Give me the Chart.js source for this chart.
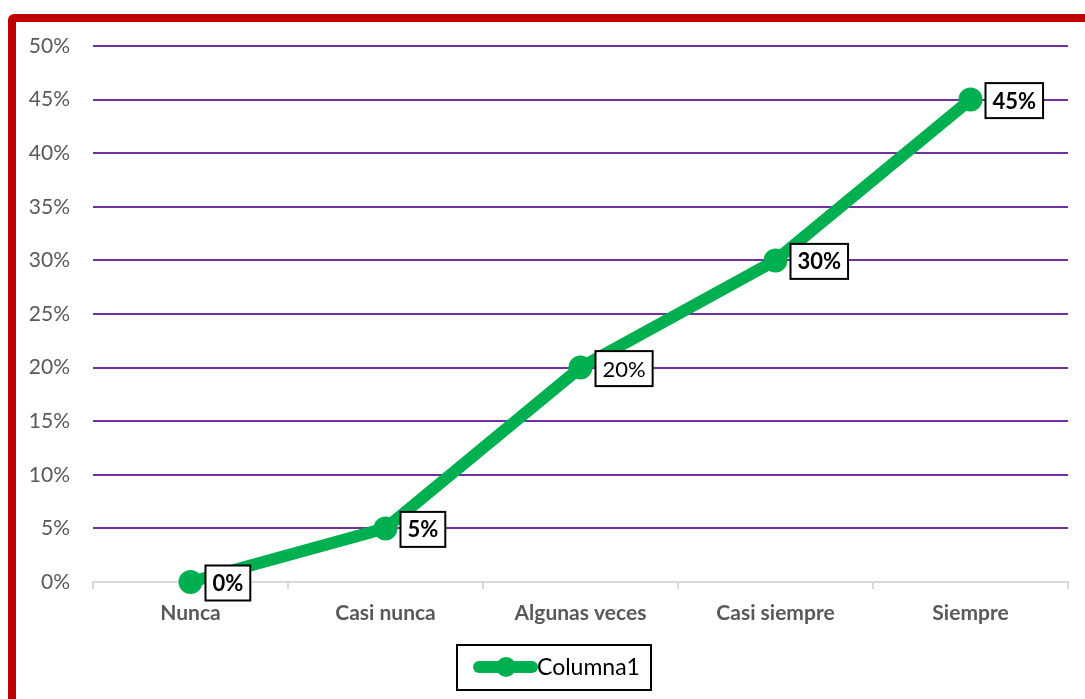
<!DOCTYPE html>
<html>
<head>
<meta charset="utf-8">
<script src="https://cdn.jsdelivr.net/npm/chart.js@4/dist/chart.umd.min.js"></script>
<style>
  html, body { margin: 0; padding: 0; background: #fff; overflow: hidden; }
  #marco {
    position: absolute; left: 8px; top: 14px; width: 1200px; height: 800px;
    border: 8px solid #C00000; border-radius: 6px; box-sizing: border-box;
  }
  #grafico { position: absolute; left: 0; top: 0; }
</style>
</head>
<body>
<div id="marco"></div>
<canvas id="grafico" width="1085" height="699"></canvas>
<script>
const categorias = ["Nunca", "Casi nunca", "Algunas veces", "Casi siempre", "Siempre"];
const valores = [0, 0.05, 0.20, 0.30, 0.45];
const etiquetas = ["0%", "5%", "20%", "30%", "45%"];
const nombreSerie = "Columna1";

const verde = "#00B050";
const fuente = "Lato, 'Open Sans', sans-serif";

// etiquetas con recuadro a la derecha de cada punto
const pluginEtiquetas = {
  id: "etiquetas",
  afterDatasetsDraw(chart, args, opts) {
    const ctx = chart.ctx;
    const meta = chart.getDatasetMeta(0);
    meta.data.forEach((p, i) => {
      const texto = etiquetas[i];
      const negrita = opts.negrita[i];
      ctx.save();
      ctx.font = (negrita ? "bold " : "") + "22px " + fuente;
      const w = ctx.measureText(texto).width + 14;
      const h = 35;
      const x = p.x + 15;
      const y = p.y - h / 2 + 1;
      ctx.fillStyle = "#fff";
      ctx.fillRect(x, y, w, h);
      ctx.strokeStyle = "#000";
      ctx.lineWidth = 2;
      ctx.strokeRect(x, y, w, h);
      ctx.fillStyle = "#000";
      ctx.textBaseline = "middle";
      ctx.fillText(texto, x + 7, y + h / 2 + 1);
      ctx.restore();
    });
  }
};

// leyenda inferior con línea y marcador
const pluginLeyenda = {
  id: "leyenda",
  afterDraw(chart) {
    const ctx = chart.ctx;
    ctx.save();
    ctx.strokeStyle = "#000";
    ctx.lineWidth = 2;
    ctx.strokeRect(457, 645, 194, 45);
    ctx.strokeStyle = verde;
    ctx.lineWidth = 12;
    ctx.lineCap = "round";
    ctx.beginPath();
    ctx.moveTo(479, 667);
    ctx.lineTo(532, 667);
    ctx.stroke();
    ctx.fillStyle = verde;
    ctx.beginPath();
    ctx.arc(506, 667, 10, 0, Math.PI * 2);
    ctx.fill();
    ctx.fillStyle = "#000";
    ctx.font = "23px " + fuente;
    ctx.textBaseline = "middle";
    ctx.fillText(nombreSerie, 537, 668);
    ctx.restore();
  }
};

new Chart(document.getElementById("grafico"), {
  type: "line",
  data: {
    labels: categorias,
    datasets: [{
      label: nombreSerie,
      data: valores,
      borderColor: verde,
      backgroundColor: verde,
      borderWidth: 12,
      pointRadius: 12,
      pointHoverRadius: 12,
      pointBackgroundColor: verde,
      pointBorderWidth: 0,
      tension: 0,
      clip: false
    }]
  },
  options: {
    responsive: false,
    animation: false,
    layout: { padding: { left: 0, right: 17, top: 46, bottom: 0 } },
    plugins: {
      legend: { display: false },
      tooltip: { enabled: false },
      etiquetas: { negrita: [true, true, false, true, true] }
    },
    scales: {
      x: {
        offset: true,
        afterFit(scale) { scale.height = 117; },
        grid: {
          offset: true,
          drawOnChartArea: false,
          tickLength: 7,
          color: "#D9D9D9",
          lineWidth: 2
        },
        border: { display: true, color: "#D9D9D9", width: 2 },
        ticks: {
          padding: 12,
          color: "#595959",
          font: { family: fuente, size: 21, weight: "bold" }
        }
      },
      y: {
        min: 0,
        max: 0.5,
        afterFit(scale) { scale.width = 93; },
        border: { display: false },
        grid: {
          drawTicks: false,
          lineWidth: 2,
          color: c => c.tick.value === 0 ? "rgba(0,0,0,0)" : "#7030A0"
        },
        ticks: {
          stepSize: 0.05,
          padding: 23,
          color: "#595959",
          font: { family: fuente, size: 21 },
          callback: v => Math.round(v * 100) + "%"
        }
      }
    }
  },
  plugins: [pluginEtiquetas, pluginLeyenda]
});
</script>
</body>
</html>
